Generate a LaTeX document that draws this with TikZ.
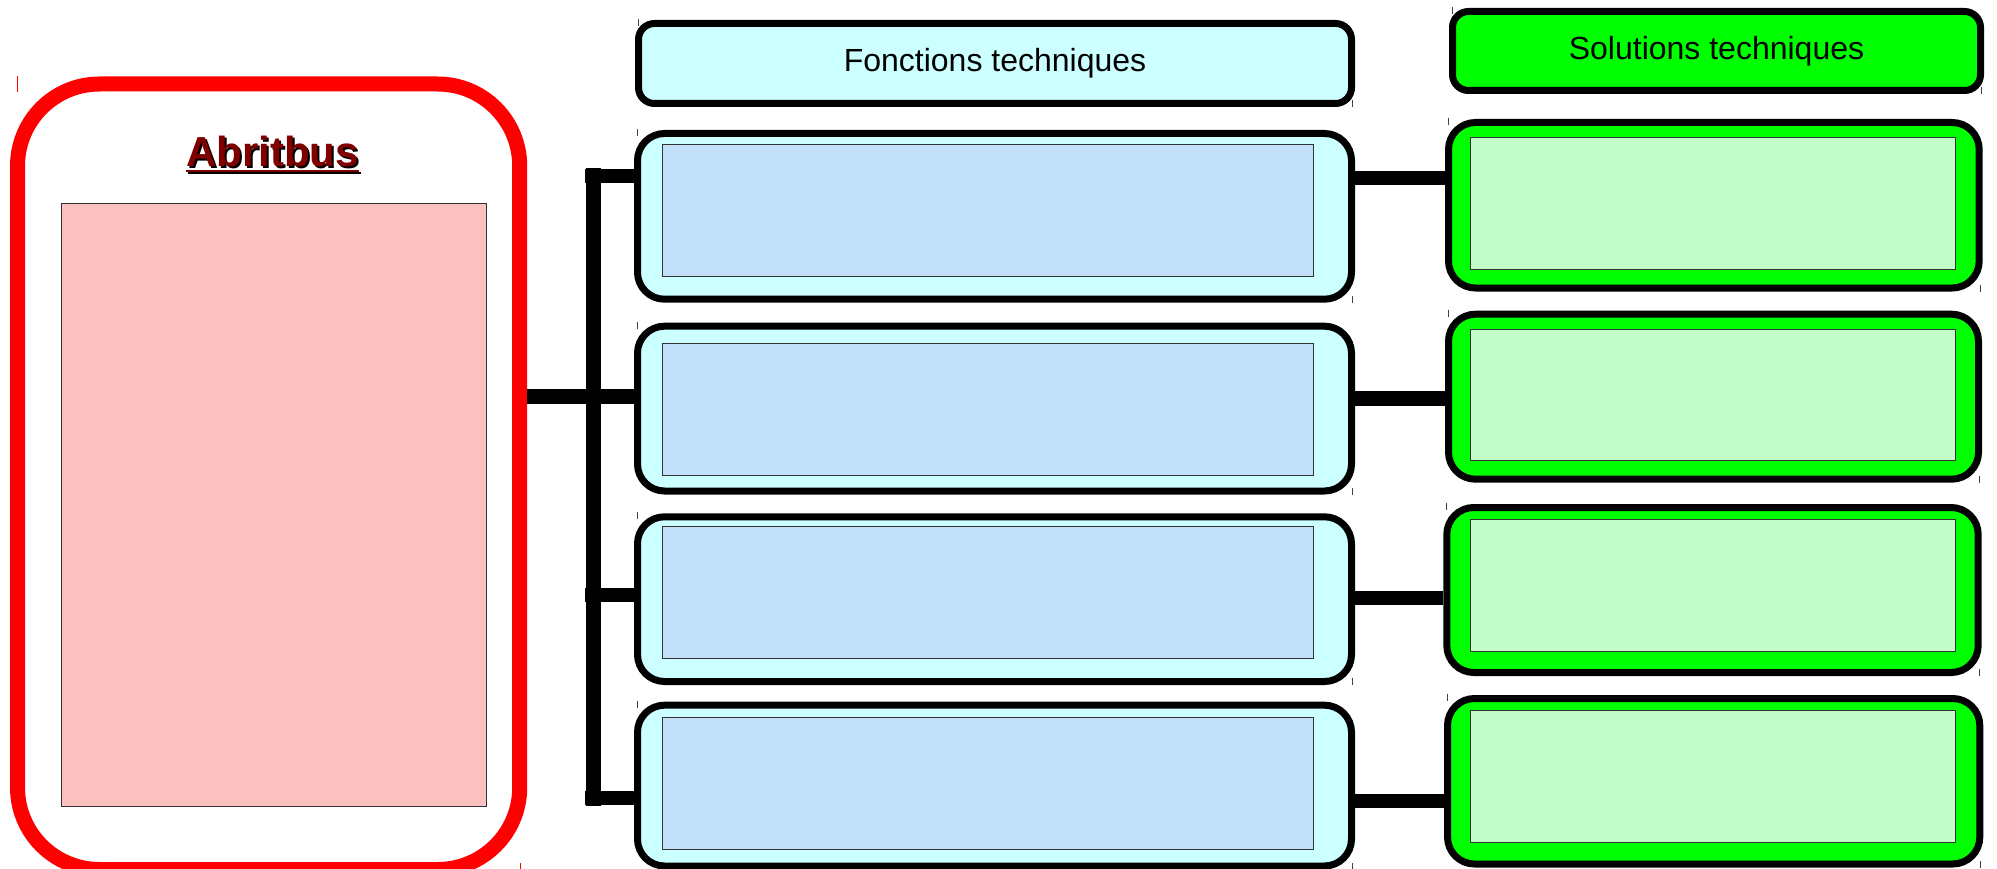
\documentclass[tikz,border=0pt]{standalone}
\usepackage{fontspec}
\setmainfont{Liberation Sans}
\usetikzlibrary{calc}
\definecolor{cyanfill}{HTML}{CCFFFF}
\definecolor{blueinner}{HTML}{C2E0FA}
\definecolor{greenfill}{HTML}{00FF00}
\definecolor{greeninner}{HTML}{C2FCC8}
\definecolor{pinkfill}{HTML}{FBC1C1}
\definecolor{redline}{HTML}{FF0000}
\definecolor{titlered}{HTML}{800000}
\tikzset{
  fbox/.style={draw=black, line width=7pt, fill=cyanfill, rounded corners=27pt, inner sep=0pt},
  sbox/.style={draw=black, line width=7pt, fill=greenfill, rounded corners=27pt, inner sep=0pt},
  fhead/.style={draw=black, line width=7pt, fill=cyanfill, rounded corners=16pt, inner sep=0pt, font=\fontsize{32}{36}\selectfont},
  shead/.style={draw=black, line width=7pt, fill=greenfill, rounded corners=16pt, inner sep=0pt, font=\fontsize{32}{36}\selectfont},
  redbox/.style={draw=redline, line width=15pt, fill=white, rounded corners=82pt, inner sep=0pt},
  innerb/.style={draw=black!80, line width=1pt, fill=blueinner},
  innerg/.style={draw=black!80, line width=1pt, fill=greeninner},
  innerp/.style={draw=black!80, line width=1pt, fill=pinkfill},
  conn/.style={draw=black, line width=14.5pt, line cap=butt},
  tickmark/.style={draw=black!75, line width=1pt},
  redtick/.style={draw=redline, line width=1pt},
}
\begin{document}
\begin{tikzpicture}[x=1pt,y=-1pt]
\useasboundingbox (0,0) rectangle (1997,869);

% left red box
\node[redbox, minimum width=502.2pt, minimum height=785.5pt] (abr) at (268.6,476.75) {};
\fill[innerp] (61.4,204) rectangle (486.7,806);
\node[anchor=base, inner sep=0pt, text=black, font=\bfseries\fontsize{42}{46}\selectfont] (tshadow) at (274.5,168.5) {Abritbus};
\node[anchor=base, inner sep=0pt, text=titlered, font=\bfseries\fontsize{42}{46}\selectfont] (title) at (272.5,166.5) {Abritbus};
\draw[black, line width=2.5pt] ([xshift=2pt,yshift=-6.5pt]title.base west) -- ([xshift=2pt,yshift=-6.5pt]title.base east);
\draw[titlered, line width=2.5pt] ([yshift=-4.5pt]title.base west) -- ([yshift=-4.5pt]title.base east);

% headers
\node[fhead, minimum width=713pt, minimum height=80pt] (fh) at (995,63.5) {Fonctions techniques};
\node[shead, minimum width=528pt, minimum height=79pt] (sh) at (1716.5,51) {Solutions techniques};

% function boxes
\node[fbox, minimum width=714pt, minimum height=165.7pt] (b1) at (994.5,216.35) {};
\node[fbox, minimum width=714pt, minimum height=164.8pt] (b2) at (994.5,408.6) {};
\node[fbox, minimum width=714pt, minimum height=164.7pt] (b3) at (994.5,599.15) {};
\node[fbox, minimum width=714pt, minimum height=160.8pt] (b4) at (994.5,785.6) {};
\fill[innerb] (662.3,145) rectangle (1313.3,276.7);
\fill[innerb] (662.3,343.3) rectangle (1313.3,475);
\fill[innerb] (662.3,526.7) rectangle (1313.3,658.5);
\fill[innerb] (662.3,717.3) rectangle (1313.3,849.3);

% solution boxes
\node[sbox, minimum width=530.7pt, minimum height=165.5pt] (g1) at (1713.85,205.25) {};
\node[sbox, minimum width=530pt, minimum height=165pt] (g2) at (1713.5,396.7) {};
\node[sbox, minimum width=531.4pt, minimum height=165pt] (g3) at (1712.5,590) {};
\node[sbox, minimum width=532.3pt, minimum height=165.5pt] (g4) at (1713.65,781.25) {};
\fill[innerg] (1470,137.7) rectangle (1955,269.5);
\fill[innerg] (1470,329) rectangle (1955,460.7);
\fill[innerg] (1470,519.3) rectangle (1955,651.7);
\fill[innerg] (1470,710) rectangle (1955,842.3);

% tree connectors
\coordinate (bartop) at (593.3,168.3);
\coordinate (barbot) at (593.3,805.7);
\coordinate (s1) at (585,175.8);
\coordinate (s2) at (585,396.7);
\coordinate (s3) at (585,595);
\coordinate (s4) at (585,798.2);
\draw[conn] (bartop) -- (barbot);
\draw[conn] (s1) -- (b1.west |- s1);
\draw[conn] (abr.east |- s2) -- (b2.west |- s2);
\draw[conn] (s3) -- (b3.west |- s3);
\draw[conn] (s4) -- (b4.west |- s4);

% function -> solution connectors
\coordinate (h1) at (0,178);
\coordinate (h2) at (0,398.7);
\coordinate (h3) at (0,598);
\coordinate (h4) at (0,801);
\draw[conn] (b1.east |- h1) -- (g1.west |- h1);
\draw[conn] (b2.east |- h2) -- (g2.west |- h2);
\draw[conn] (b3.east |- h3) -- (g3.west |- h3);
\draw[conn] (b4.east |- h4) -- (g4.west |- h4);

% corner tick marks
\foreach \n in {fh,sh,b1,b2,b3,b4,g1,g2,g3,g4}{
  \draw[tickmark] ($(\n.north west)+(3.5,-1)$) -- ++(0,7);
  \draw[tickmark] ($(\n.south east)+(-2.5,0)$) -- ++(0,-7);
}
\draw[redtick] ($(abr.north west)+(7.5,0)$) -- ++(0,16);
\draw[redtick] ($(abr.south east)+(-6.5,0)$) -- ++(0,-14);
\end{tikzpicture}
\end{document}
